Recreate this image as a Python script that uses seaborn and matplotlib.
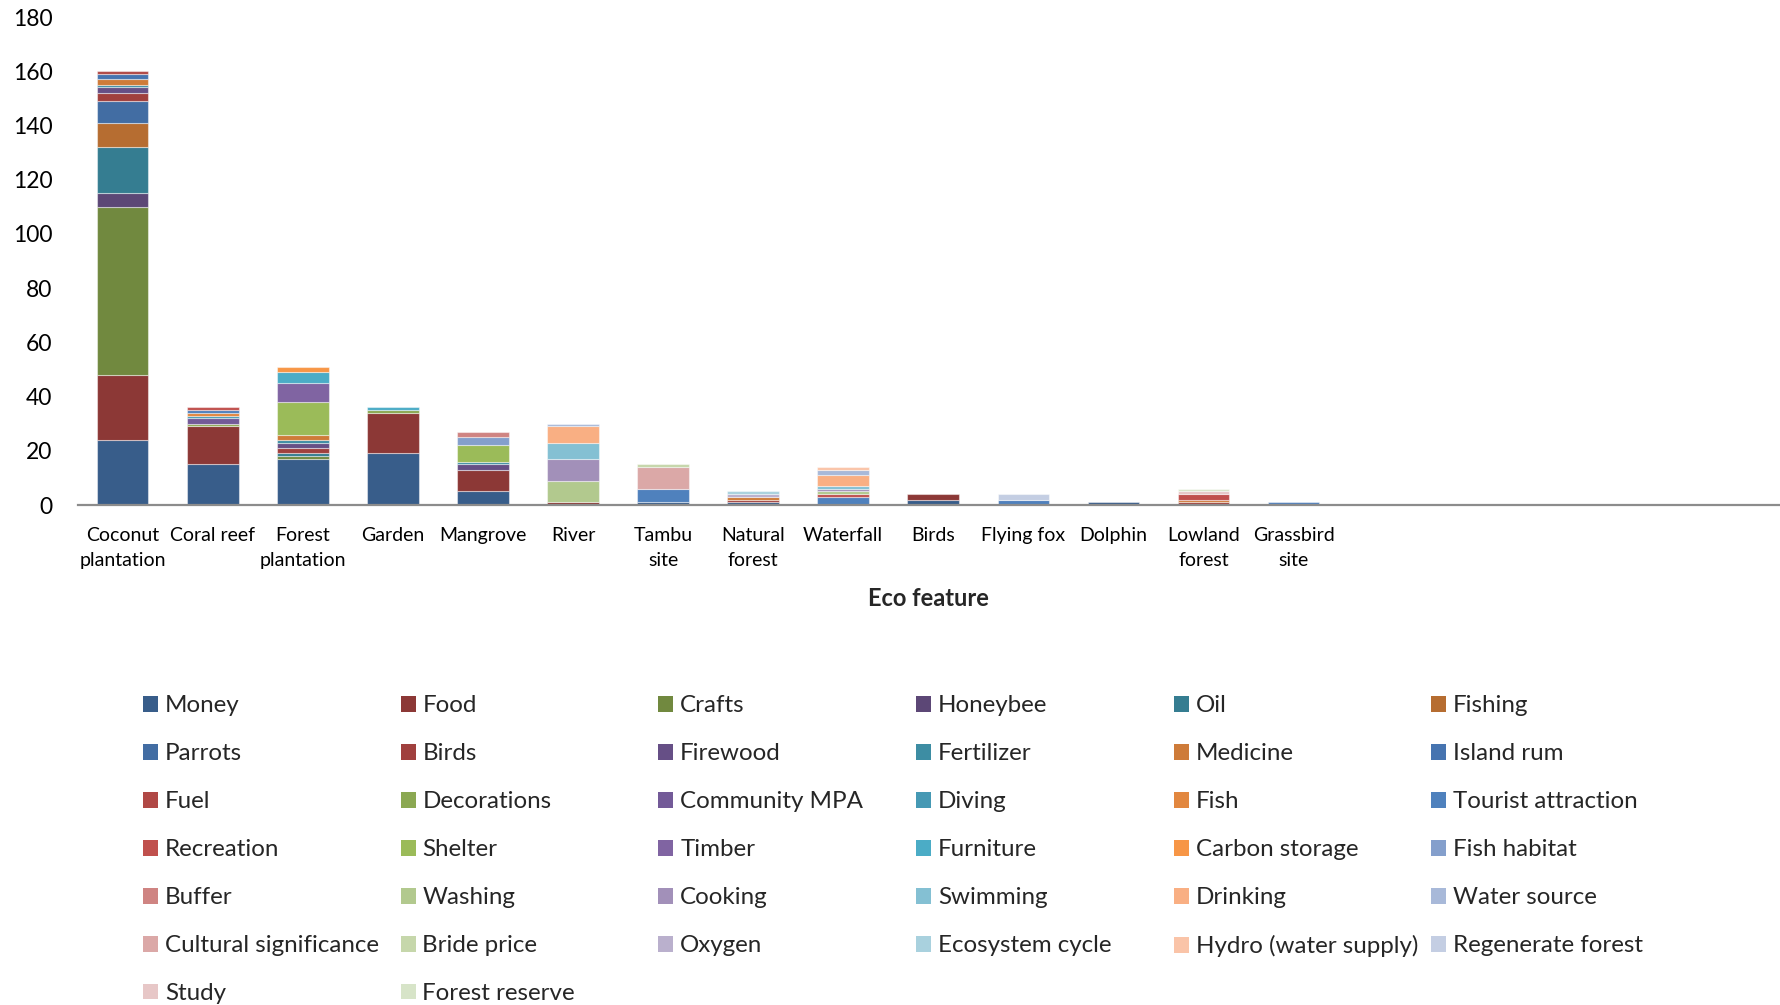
import matplotlib
matplotlib.use("Agg")
import matplotlib.pyplot as plt
from matplotlib.patches import Patch
import seaborn as sns
import pandas as pd

# Eco features along the x axis
features = ["Coconut\nplantation", "Coral reef", "Forest\nplantation", "Garden",
            "Mangrove", "River", "Tambu\nsite", "Natural\nforest", "Waterfall",
            "Birds", "Flying fox", "Dolphin", "Lowland\nforest", "Grassbird\nsite"]

# Uses, in stacking order (bottom to top)
uses = ["Money", "Food", "Crafts", "Honeybee", "Oil", "Fishing",
        "Parrots", "Birds", "Firewood", "Fertilizer", "Medicine", "Island rum",
        "Fuel", "Decorations", "Community MPA", "Diving", "Fish", "Tourist attraction",
        "Recreation", "Shelter", "Timber", "Furniture", "Carbon storage", "Fish habitat",
        "Buffer", "Washing", "Cooking", "Swimming", "Drinking", "Water source",
        "Cultural significance", "Bride price", "Oxygen", "Ecosystem cycle",
        "Hydro (water supply)", "Regenerate forest", "Study", "Forest reserve"]

use_colors = ["#385D8A", "#8C3836", "#71893F", "#5C4776", "#357D91", "#B66D31",
              "#426DA3", "#A0403E", "#664F86", "#3D8DA3", "#CE7B39", "#4674B0",
              "#B04845", "#8BA852", "#735A98", "#4699B4", "#E2873F", "#4F81BD",
              "#C0504D", "#9BBB59", "#8064A2", "#4BACC6", "#F79646", "#849FCC",
              "#CF8482", "#B2C98E", "#A290B9", "#84C0D3", "#F9AF83", "#A8B9D9",
              "#DBA8A7", "#C6D7AB", "#BAB0CD", "#A9D1DE", "#FAC4A8", "#C4CEE3",
              "#E7C7C7", "#D7E4C8"]

# Number of mentions of each use, per eco feature
coconut_plantation = {"Money": 24, "Food": 24, "Crafts": 62, "Honeybee": 5, "Oil": 17,
                      "Fishing": 9, "Parrots": 8, "Birds": 3, "Firewood": 2,
                      "Fertilizer": 1, "Medicine": 2, "Island rum": 2, "Fuel": 1}
coral_reef = {"Money": 15, "Food": 14, "Decorations": 1, "Community MPA": 2,
              "Diving": 1, "Fish": 1, "Tourist attraction": 1, "Recreation": 1}
forest_plantation = {"Money": 17, "Crafts": 1, "Oil": 1, "Birds": 2, "Firewood": 2,
                     "Fertilizer": 1, "Medicine": 2, "Shelter": 12, "Timber": 7,
                     "Furniture": 4, "Carbon storage": 2}
garden = {"Money": 19, "Food": 15, "Decorations": 1, "Furniture": 1}
mangrove = {"Money": 5, "Food": 8, "Firewood": 2, "Fertilizer": 1, "Shelter": 6,
            "Fish habitat": 3, "Buffer": 2}
river = {"Food": 1, "Washing": 8, "Cooking": 8, "Swimming": 6, "Drinking": 6,
         "Water source": 1}
tambu_site = {"Money": 1, "Tourist attraction": 5, "Cultural significance": 8,
              "Bride price": 1}
natural_forest = {"Money": 1, "Birds": 1, "Medicine": 1, "Oxygen": 1,
                  "Ecosystem cycle": 1}
waterfall = {"Tourist attraction": 3, "Recreation": 1, "Washing": 1, "Cooking": 1,
             "Swimming": 1, "Drinking": 4, "Water source": 2, "Hydro (water supply)": 1}
birds = {"Money": 2, "Food": 2}
flying_fox = {"Tourist attraction": 2, "Regenerate forest": 2}
dolphin = {"Money": 1}
lowland_forest = {"Birds": 1, "Medicine": 1, "Recreation": 2, "Study": 1,
                  "Forest reserve": 1}
grassbird_site = {"Tourist attraction": 1}

feature_counts = [coconut_plantation, coral_reef, forest_plantation, garden, mangrove,
                  river, tambu_site, natural_forest, waterfall, birds, flying_fox,
                  dolphin, lowland_forest, grassbird_site]

rows = []
for feat, counts in zip(features, feature_counts):
    for use in uses:
        rows.append({"feature": feat, "use": use, "count": counts.get(use, 0)})
df = pd.DataFrame(rows)
df["feature"] = pd.Categorical(df["feature"], categories=features, ordered=True)

sns.set_theme(style="white")
plt.rcParams["font.family"] = ["Lato", "DejaVu Sans"]

fig = plt.figure(figsize=(17.8, 10.05), dpi=100)
ax = fig.add_axes([77.6 / 1780, 1 - 505 / 1005, 1 - 77.6 / 1780, (505 - 17) / 1005])

palette = dict(zip(uses, use_colors))
# seaborn stacks the last hue level at the bottom, so pass the order reversed
sns.histplot(data=df, x="feature", hue="use", weights="count", multiple="stack",
             discrete=True, shrink=0.573, hue_order=uses[::-1], palette=palette,
             alpha=1, edgecolor=(1, 1, 1, 0.45), linewidth=0.8, legend=False, ax=ax)
for p in ax.patches:
    if p.get_height() == 0:
        p.set_linewidth(0)

ax.set_ylim(0, 180)
ax.set_yticks(range(0, 181, 20))
ax.set_xlim(-0.5, 18.4)
ax.set_xticks(range(len(features)))
ax.set_xticklabels(features, fontsize=14, linespacing=1.53, color="black")
ax.tick_params(axis="x", length=0, pad=16)
ax.tick_params(axis="y", length=0, pad=18, labelsize=16.5, labelcolor="black")
ax.set_ylabel("")
ax.set_xlabel("Eco feature", fontsize=17, fontweight="bold", labelpad=13.5)

for side in ("left", "right", "top"):
    ax.spines[side].set_visible(False)
ax.spines["bottom"].set_color("#8C8C8C")
ax.spines["bottom"].set_linewidth(1.6)

# Legend laid out row by row in six fixed-width columns
ncols = 6
col_x0 = 143 / 1780
col_step = 257.7 / 1780
for c in range(ncols):
    idx = list(range(c, len(uses), ncols))
    handles = [Patch(facecolor=use_colors[i], edgecolor="none") for i in idx]
    labels = [uses[i] for i in idx]
    fig.legend(handles, labels, loc="upper left",
               bbox_to_anchor=(col_x0 + c * col_step, 1 - 695.5 / 1005),
               frameon=False, fontsize=17.4, handlelength=0.62, handleheight=0.62,
               handletextpad=0.28, labelspacing=1.115, borderpad=0, borderaxespad=0)

fig.savefig("out.png", dpi=100)
